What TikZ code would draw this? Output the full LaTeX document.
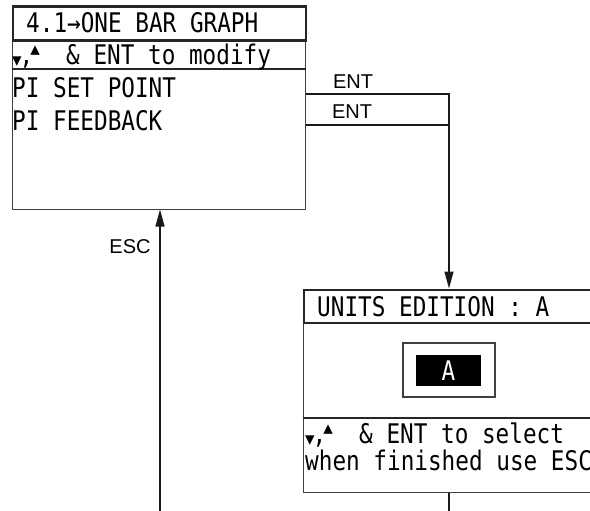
\documentclass[tikz,border=0pt]{standalone}
\usepackage{fontspec}
\setmainfont{Liberation Sans}
\newfontfamily\lcdfont[FakeStretch=0.84]{DejaVu Sans Mono}
\newfontfamily\symfont{DejaVu Sans}
\usetikzlibrary{arrows.meta}
\newcommand\myupdn{\makebox[54pt][l]{\smash{\raisebox{-2pt}{\symfont\fontsize{19}{19}\selectfont ▾}}\hspace{-2pt},\hspace{-3pt}\smash{\raisebox{9pt}{\symfont\fontsize{19}{19}\selectfont ▴}}}}
\begin{document}
\begin{tikzpicture}[x=1pt,y=1pt,
  thinline/.style={draw=black!75, line width=1pt},
  thickline/.style={draw=black!85, line width=2.2pt},
  conn/.style={draw=black!90, line width=1.2pt},
  arr/.style={-{Triangle[length=17pt,width=9pt]}},
  lcd/.style={font=\lcdfont\fontsize{27}{27}\selectfont, inner sep=0pt, anchor=base west},
  lbl/.style={font=\fontsize{20}{20}\selectfont, inner sep=0pt}]
\clip (0,0) rectangle (590,-511);
\useasboundingbox (0,0) rectangle (590,-511);

% ---- screen 1
\node[thinline, minimum width=293pt, minimum height=203pt, inner sep=0pt] (s1) at (158.5,-107.5) {};
\node[thickline, minimum width=293pt, minimum height=34pt, inner sep=0pt, anchor=north west] (s1t) at (s1.north west) {};
\draw[thickline] (s1.west |- 0,-69) -- (s1.east |- 0,-69);
\node[lcd] (t1) at (26,-32.5) {4.1→ONE BAR GRAPH};
\node[lcd] (t2) at (12,-65) {\myupdn\& ENT to modify};
\node[lcd] (t3) at (12,-97.5) {PI SET POINT};
\node[lcd] (t4) at (12,-131) {PI FEEDBACK};

% ---- screen 2
\node[thinline, minimum width=317pt, minimum height=203pt, inner sep=0pt] (s2) at (461.5,-390.5) {};
\node[thickline, minimum width=317pt, minimum height=33pt, inner sep=0pt, anchor=north west] (s2t) at (s2.north west) {};
\draw[thickline] (s2.west |- 0,-418) -- (s2.east |- 0,-418);
\node[lcd] (u1) at (317,-316.5) {UNITS EDITION : A};
\node[thinline, line width=1.3pt, minimum width=92pt, minimum height=54pt, inner sep=0pt] (sel) at (449,-370) {};
\node[fill=black, minimum width=65pt, minimum height=31pt, inner sep=0pt, text=white,
      font=\lcdfont\fontsize{27}{27}\selectfont] (val) at (448.5,-370.5) {A};
\node[lcd] (u2) at (305,-443) {\myupdn\& ENT to select};
\node[lcd] (u3) at (305,-470) {when finished use ESC};

% ---- connectors
\coordinate (j1) at (449,-94);
\coordinate (j2) at (449,-125);
\draw[conn] (s1.east |- j1) -- (j1) -- (j2);
\draw[conn] (s1.east |- j2) -- (j2);
\draw[conn, arr] (j2) -- (j2 |- s2.north);
\node[lbl] (ent1) at (353,-81.5) {ENT};
\node[lbl] (ent2) at (352,-112) {ENT};

\coordinate (esc0) at (160,-511);
\draw[conn, arr] (esc0) -- (esc0 |- s1.south);
\node[lbl] (esc) at (130,-247) {ESC};

\coordinate (out) at (449,-511);
\draw[conn] (out |- s2.south) -- (out);
\end{tikzpicture}
\end{document}
